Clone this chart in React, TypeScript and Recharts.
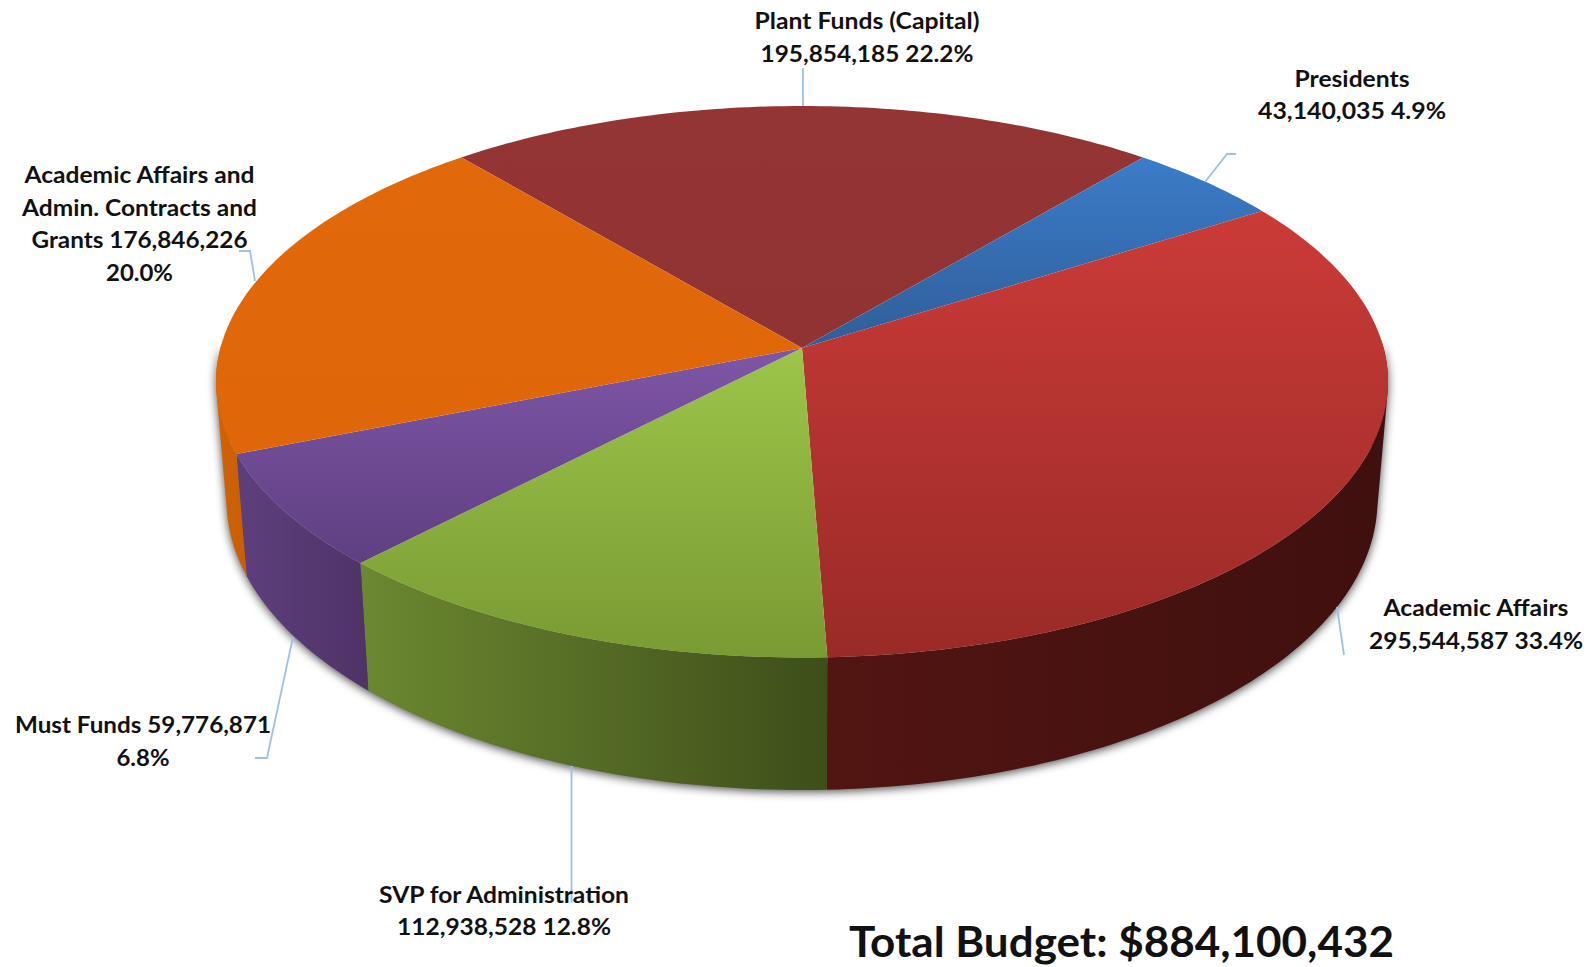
import { PieChart, Pie } from "recharts";

// Budget figures
const departments = [
  "Plant Funds (Capital)",
  "Presidents",
  "Academic Affairs",
  "SVP for Administration",
  "Must Funds",
  "Academic Affairs and Admin. Contracts and Grants",
];
const budgets = [195854185, 43140035, 295544587, 112938528, 59776871, 176846226];
const totalLabel = "Total Budget: $884,100,432";

const labelLines = [
  ["Plant Funds (Capital)", "195,854,185 22.2%"],
  ["Presidents", "43,140,035 4.9%"],
  ["Academic Affairs", "295,544,587 33.4%"],
  ["SVP for Administration", "112,938,528 12.8%"],
  ["Must Funds 59,776,871", "6.8%"],
  ["Academic Affairs and", "Admin. Contracts and", "Grants 176,846,226", "20.0%"],
];

// Where each label sits
const labelX = [867, 1352, 1476, 504, 143, 139.5];
const labelY = [29, 87, 616, 903, 733, 183];
const lineGap = [32.5, 32, 33, 32, 33, 32.7];
const lineWidths = [
  [225, 213],
  [115, 188],
  [185, 214],
  [250, 214],
  [256, 53],
  [230, 235, 216, 67],
];
const leaders = [
  "M803 68 V106",
  "M1236 154 H1227 L1205 182",
  "M1337 607 L1344 655",
  "M571.5 766 V903",
  "M293 637 L267 758 H255",
  "M239 251 H250 L255 281",
];

const topColors = [
  ["#943434", "#923333"],
  ["#3b7cc9", "#2f5e98"],
  ["#cb3b38", "#9a2a27"],
  ["#9cc549", "#7a9a33"],
  ["#7e56a6", "#5f3f82"],
  ["#e2690a", "#e06708"],
];
const wallColors = [
  ["#5c1c1c", "#5c1c1c"],
  ["#1c3a60", "#1c3a60"],
  ["#521512", "#3f100f"],
  ["#6c8830", "#3d4e1a"],
  ["#5e3f7c", "#4f3367"],
  ["#d26306", "#c85e04"],
];

const chartData = departments.map((name, i) => ({ name, value: budgets[i] }));

const PIE_CX = 802;
const PIE_CY = 348;
const RADIUS = 581.6;
const FLATTEN = 0.467;
const PERSPECTIVE = 0.1224;
const RIM_X = 0.982;
const RIM_Y = 1.051;
const WALL_DROP = 116.7;
const START_ANGLE = 129.85;

// circle -> tilted ellipse, the far side shrinks a bit
const project = (cx, cy, r, deg) => {
  const a = (deg * Math.PI) / 180;
  const w = 1 + PERSPECTIVE * Math.sin(a);
  return [cx + (r * Math.cos(a)) / w, cy - (r * FLATTEN * Math.sin(a)) / w];
};

const rimPoint = (cx, cy, [x, y]) => [
  cx + RIM_X * (x - cx),
  cy + RIM_Y * (y - cy) + WALL_DROP,
];

const arcAngles = (start, end) => {
  const steps = Math.max(2, Math.ceil(Math.abs(end - start)));
  const out = [];
  for (let i = 0; i <= steps; i++) out.push(start + ((end - start) * i) / steps);
  return out;
};

const toPath = (pts) =>
  "M" + pts.map((p) => p[0].toFixed(2) + " " + p[1].toFixed(2)).join("L") + "Z";

// keep every strip wound the same way so the fill never cancels out
const orient = (pts) => {
  let area = 0;
  pts.forEach((p, i) => {
    const q = pts[(i + 1) % pts.length];
    area += p[0] * q[1] - q[0] * p[1];
  });
  return area < 0 ? [...pts].reverse() : pts;
};

const TopSlice = ({ cx, cy, outerRadius, startAngle, endAngle, index }) => {
  const arc = arcAngles(startAngle, endAngle).map((a) => project(cx, cy, outerRadius, a));
  return <path d={toPath([[cx, cy], ...arc])} fill={`url(#top${index})`} />;
};

// wall is built from thin strips, a single outline would miss the side silhouette.
// Only the front half is drawn, the back is hidden and would spill its shadow.
const WallSlice = ({ cx, cy, outerRadius, startAngle, endAngle, index }) => {
  const angles = arcAngles(startAngle, endAngle);
  const strips = [];
  for (let i = 1; i < angles.length; i++) {
    if (Math.sin((angles[i] * Math.PI) / 180) > 0.02) continue;
    const a = project(cx, cy, outerRadius, angles[i - 1]);
    const b = project(cx, cy, outerRadius, angles[i]);
    strips.push(toPath(orient([a, b, rimPoint(cx, cy, b), rimPoint(cx, cy, a)])));
  }
  if (strips.length === 0) return null;
  return <path d={strips.join("")} fill={`url(#wall${index})`} />;
};

const renderLabel = ({ index }) => {
  const font = { fontFamily: "Lato", fontWeight: 700, fontSize: 22, fill: "#111" };
  return (
    <g key={index}>
      <path d={leaders[index]} fill="none" stroke="#9cc0ea" strokeWidth={1.8} />
      {labelLines[index].map((line, i) => (
        <text
          key={line}
          x={labelX[index]}
          y={labelY[index] + i * lineGap[index]}
          textAnchor="middle"
          textLength={lineWidths[index][i]}
          lengthAdjust="spacingAndGlyphs"
          {...font}
        >
          {line}
        </text>
      ))}
    </g>
  );
};

const App = () => {
  return (
    <div style={{ position: "absolute", left: 0, top: 0, width: 1596, height: 967, background: "#fff" }}>
      <style>{`.pie-wall { filter: drop-shadow(0 2px 5px rgba(0,0,0,0.7)); }`}</style>
      <PieChart width={1596} height={967} margin={{ top: 0, right: 0, bottom: 0, left: 0 }}>
        <defs>
          {topColors.map((c, i) => (
            <linearGradient key={i} id={`top${i}`} x1="0" y1="0" x2="0" y2="1">
              <stop offset="0" stopColor={c[0]} />
              <stop offset="1" stopColor={c[1]} />
            </linearGradient>
          ))}
          {wallColors.map((c, i) => (
            <linearGradient key={i} id={`wall${i}`} x1="0" y1="0" x2="1" y2="0">
              <stop offset="0" stopColor={c[0]} />
              <stop offset="1" stopColor={c[1]} />
            </linearGradient>
          ))}
        </defs>
        <Pie
          className="pie-wall"
          data={chartData}
          dataKey="value"
          nameKey="name"
          cx={PIE_CX}
          cy={PIE_CY}
          outerRadius={RADIUS}
          startAngle={START_ANGLE}
          endAngle={START_ANGLE - 360}
          stroke="none"
          shape={WallSlice}
          isAnimationActive={false}
        />
        <Pie
          data={chartData}
          dataKey="value"
          nameKey="name"
          cx={PIE_CX}
          cy={PIE_CY}
          outerRadius={RADIUS}
          startAngle={START_ANGLE}
          endAngle={START_ANGLE - 360}
          stroke="none"
          shape={TopSlice}
          label={renderLabel}
          labelLine={false}
          isAnimationActive={false}
        />
        <text
          x={1121.5}
          y={957}
          textAnchor="middle"
          textLength={545}
          lengthAdjust="spacingAndGlyphs"
          fontFamily="Lato"
          fontWeight={700}
          fontSize={42}
          fill="#111"
        >
          {totalLabel}
        </text>
      </PieChart>
    </div>
  );
};

export default App;
